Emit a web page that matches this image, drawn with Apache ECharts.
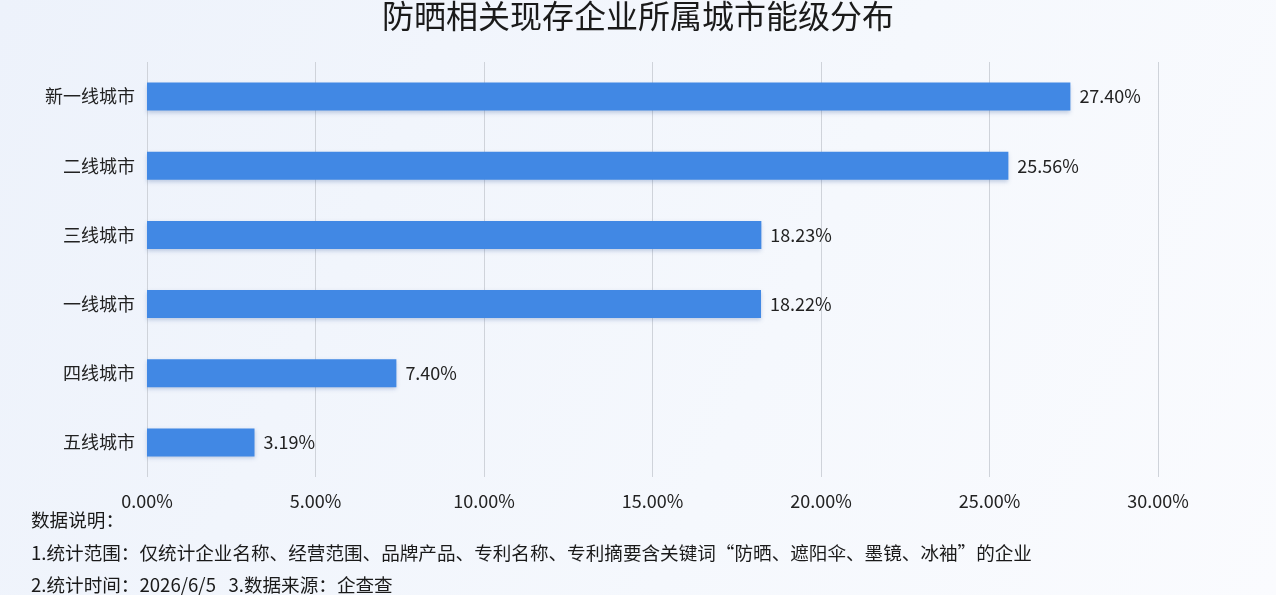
<!DOCTYPE html>
<html>
<head>
<meta charset="utf-8">
<script src="https://cdn.jsdelivr.net/npm/echarts@6/dist/echarts.min.js"></script>
<style>
  html, body { margin: 0; padding: 0; }
  #main { width: 1276px; height: 595px; }
</style>
</head>
<body>
<div id="main"></div>
<script>
// 城市能级（从上到下）
var cityLevels = ['新一线城市', '二线城市', '三线城市', '一线城市', '四线城市', '五线城市'];
var shareValues = [27.40, 25.56, 18.23, 18.22, 7.40, 3.19];
var xTicks = [0, 5, 10, 15, 20, 25, 30];

var notes = [
  '数据说明：',
  '1.统计范围：仅统计企业名称、经营范围、品牌产品、专利名称、专利摘要含关键词\u201c防晒、遮阳伞、墨镜、冰袖\u201d的企业',
  '2.统计时间：2026/6/5   3.数据来源：企查查'
];

var font = '"Noto Sans CJK SC", "Noto Sans", sans-serif';
var myChart = echarts.init(document.getElementById('main'));

myChart.setOption({
  backgroundColor: new echarts.graphic.LinearGradient(0, 0, 1, 1, [
    { offset: 0, color: '#edf2fb' },
    { offset: 0.6, color: '#f5f8fd' },
    { offset: 1, color: '#fafbfe' }
  ]),
  textStyle: { fontFamily: font },
  title: {
    text: '防晒相关现存企业所属城市能级分布',
    left: 'center',
    top: -5,
    textStyle: { fontSize: 32, fontWeight: 'normal', color: '#1a1a1a', fontFamily: font }
  },
  grid: { left: 147, right: 118, top: 62, bottom: 118, containLabel: false },
  xAxis: {
    type: 'value',
    min: xTicks[0],
    max: xTicks[xTicks.length - 1],
    interval: 5,
    axisLine: { show: false },
    axisTick: { show: false },
    axisLabel: {
      margin: 15,
      fontSize: 18,
      color: '#222',
      formatter: function (v) { return v.toFixed(2) + '%'; }
    },
    splitLine: { show: true, lineStyle: { color: '#cfd3da', width: 1 } }
  },
  yAxis: {
    type: 'category',
    inverse: true,
    data: cityLevels,
    axisLine: { show: false },
    axisTick: { show: false },
    axisLabel: { margin: 12, fontSize: 18, color: '#222' }
  },
  series: [{
    type: 'bar',
    data: shareValues,
    barWidth: 28,
    itemStyle: {
      color: '#4188e4',
      shadowColor: 'rgba(40,80,150,0.25)',
      shadowBlur: 4,
      shadowOffsetY: 2
    },
    label: {
      show: true,
      position: 'right',
      distance: 9,
      fontSize: 18,
      color: '#222',
      formatter: function (p) { return p.value.toFixed(2) + '%'; }
    }
  }],
  graphic: notes.map(function (t, i) {
    return {
      type: 'text',
      left: 31,
      top: 511 + i * 32.5,
      style: { text: t, fontSize: 18.6, fill: '#1a1a1a', fontFamily: font }
    };
  })
});
</script>
</body>
</html>
